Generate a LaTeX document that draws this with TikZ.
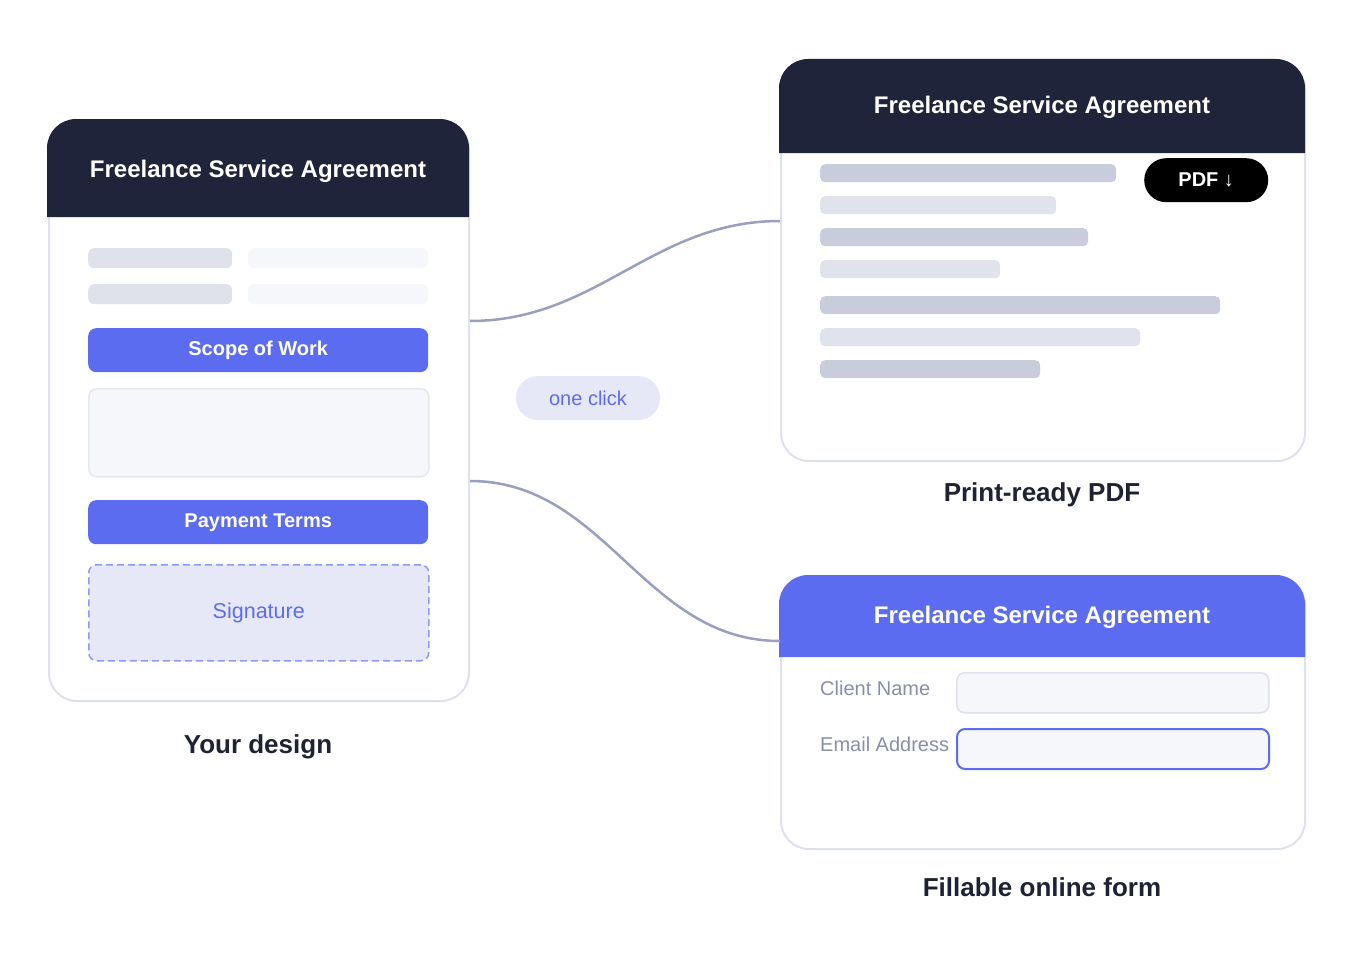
\documentclass[tikz,border=0pt]{standalone}
\usepackage{fontspec}
\setmainfont{Liberation Sans}
\definecolor{ink}{HTML}{20243A}
\definecolor{brand}{HTML}{5C6CF0}
\definecolor{cardline}{HTML}{DFE1EC}
\definecolor{barmid}{HTML}{E0E2EB}
\definecolor{barfaint}{HTML}{F6F7FA}
\definecolor{bardark}{HTML}{C9CCDA}
\definecolor{barlight}{HTML}{E1E3EC}
\definecolor{fieldbg}{HTML}{F6F7FB}
\definecolor{boxline}{HTML}{E6E8EF}
\definecolor{signbg}{HTML}{E6E8F7}
\definecolor{signline}{HTML}{8F9AF3}
\definecolor{connc}{HTML}{9A9FC0}
\definecolor{labelc}{HTML}{8A8FA8}
\definecolor{capc}{HTML}{1F2233}
\newcommand\cardhead[5]{\path[fill=#5, draw=#5, line width=2pt] (#1,#4) -- (#1,#2+28) arc[start angle=180,end angle=270,radius=28] -- (#3-28,#2) arc[start angle=270,end angle=360,radius=28] -- (#3,#4) -- cycle;}
\begin{document}
\begin{tikzpicture}[x=1pt,y=-1pt,
 card/.style={draw=cardline, line width=2pt, fill=white, rounded corners=28pt, inner sep=0pt, anchor=north west},
 title/.style={text=white, font=\fontsize{24}{28}\selectfont\bfseries},
 bar/.style={inner sep=0pt, anchor=north west, rounded corners=6pt, minimum height=20pt},
 pbar/.style={inner sep=0pt, anchor=north west, rounded corners=5pt, minimum height=18pt},
 btn/.style={inner sep=0pt, anchor=north west, rounded corners=8pt, fill=brand, minimum width=340pt, minimum height=44pt, text=white, font=\fontsize{20}{24}\selectfont\bfseries},
 caption/.style={text=capc, font=\fontsize{26}{30}\selectfont\bfseries},
 conn/.style={draw=connc, line width=2.5pt},
 flabel/.style={anchor=west, text=labelc, font=\fontsize{20}{24}\selectfont, inner sep=0pt},
 field/.style={inner sep=0pt, anchor=north west, rounded corners=8pt, fill=fieldbg, minimum width=312pt, minimum height=40pt},
]
\useasboundingbox (0,0) rectangle (1360,958);
\fill[white] (0,0) rectangle (1360,958);

% Your design card
\node[card, minimum width=420pt, minimum height=580pt] (design) at (48,120) {};
\cardhead{48}{120}{468}{216}{ink}
\node[title] (designtitle) at (258,171) {Freelance Service Agreement};
\node[bar, fill=barmid, minimum width=144pt] (r1a) at (88,248) {};
\node[bar, fill=barfaint, minimum width=180pt] (r1b) at (248,248) {};
\node[bar, fill=barmid, minimum width=144pt] (r2a) at (88,284) {};
\node[bar, fill=barfaint, minimum width=180pt] (r2b) at (248,284) {};
\node[btn] (scope) at (88,328) {Scope of Work};
\node[inner sep=0pt, anchor=north west, rounded corners=8pt, fill=fieldbg, draw=boxline, line width=1.5pt, minimum width=340pt, minimum height=88pt] (scopebox) at (88,388) {};
\node[btn] (pay) at (88,500) {Payment Terms};
\node[inner sep=0pt, anchor=north west, rounded corners=8pt, fill=signbg, draw=signline, line width=1.5pt, dash pattern=on 7pt off 4pt, minimum width=340pt, minimum height=96pt, text=brand, font=\fontsize{21.5}{26}\selectfont] (sign) at (88,564) {Signature};
\node[caption] (cap1) at (258,747) {Your design};

% PDF card
\node[card, minimum width=524pt, minimum height=400pt] (pdf) at (780,60) {};
\cardhead{780}{60}{1304}{152}{ink}
\node[title] (pdftitle) at (1042,107) {Freelance Service Agreement};
\node[pbar, fill=bardark, minimum width=296pt] (p1) at (820,164) {};
\node[pbar, fill=barlight, minimum width=236pt] (p2) at (820,196) {};
\node[pbar, fill=bardark, minimum width=268pt] (p3) at (820,228) {};
\node[pbar, fill=barlight, minimum width=180pt] (p4) at (820,260) {};
\node[pbar, fill=bardark, minimum width=400pt] (p5) at (820,296) {};
\node[pbar, fill=barlight, minimum width=320pt] (p6) at (820,328) {};
\node[pbar, fill=bardark, minimum width=220pt] (p7) at (820,360) {};
\node[inner sep=0pt, anchor=north west, rounded corners=22pt, fill=black, minimum width=124pt, minimum height=44pt, text=white, font=\fontsize{20}{24}\selectfont\bfseries] (pdfbtn) at (1144,158) {PDF ↓};
\node[caption] (cap2) at (1042,495) {Print-ready PDF};

% Form card
\node[card, minimum width=524pt, minimum height=272pt] (form) at (780,576) {};
\cardhead{780}{576}{1304}{656}{brand}
\node[title] (formtitle) at (1042,617) {Freelance Service Agreement};
\node[flabel] (lname) at (820,688) {Client Name};
\node[field, draw=cardline, line width=1.5pt] (fname) at (956,672) {};
\node[flabel] (lmail) at (820,744) {Email Address};
\node[field, draw=brand, line width=2pt] (fmail) at (956,728) {};
\node[caption] (cap3) at (1042,887) {Fillable online form};

% one click
\node[fill=signbg, rounded corners=22pt, minimum width=144pt, minimum height=44pt, inner sep=0pt, text=brand, font=\fontsize{20}{24}\selectfont] (click) at (588,398) {one click};

% connectors
\draw[conn] ([yshift=90pt]design.east) to[out=0,in=180] ([yshift=40pt]pdf.west);
\draw[conn] ([yshift=-70pt]design.east) to[out=0,in=180] ([yshift=72pt]form.west);
\end{tikzpicture}
\end{document}
